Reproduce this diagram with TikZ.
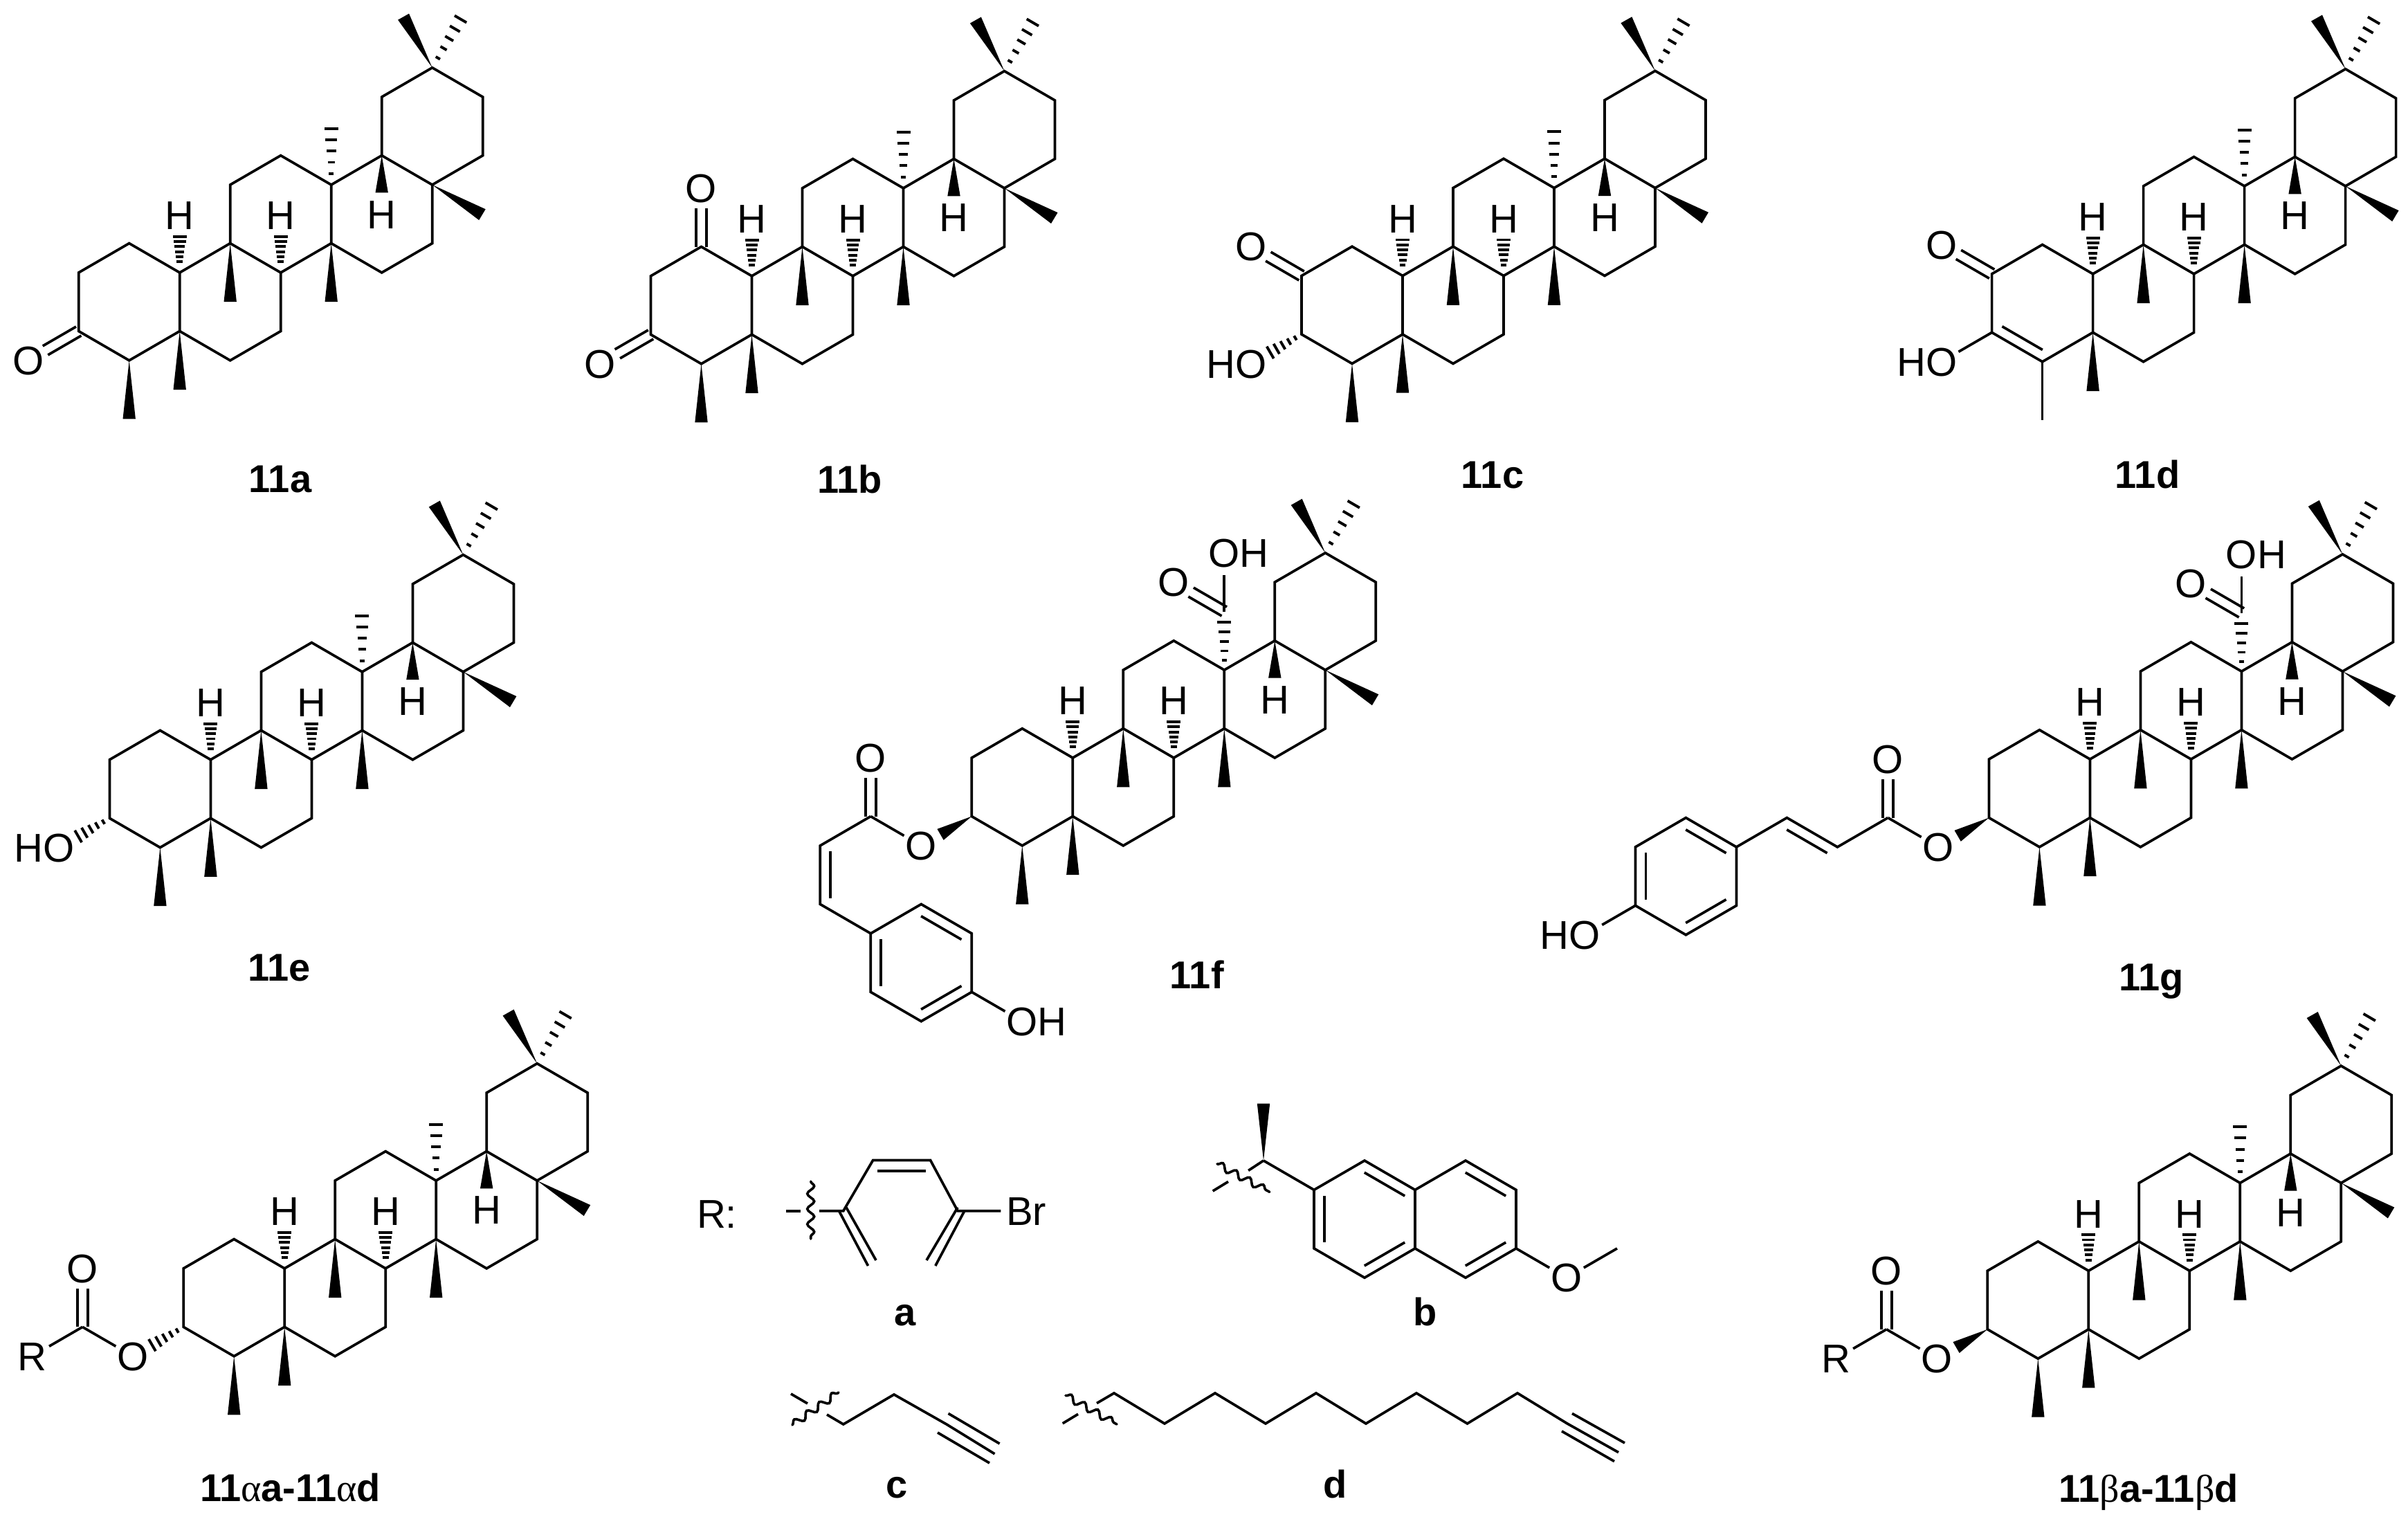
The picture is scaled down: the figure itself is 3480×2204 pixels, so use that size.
\documentclass[tikz,border=0pt]{standalone}
\usepackage{fontspec}
\setmainfont{Liberation Sans}
\newfontfamily\grk{Liberation Serif}
\usetikzlibrary{calc,decorations.pathmorphing}
\newcounter{nc}
\tikzset{
  bond/.style={line width=3.7pt,line join=miter,line cap=butt},
  hbar/.style={line width=3.9pt,line cap=butt},
  atom/.style={font=\fontsize{58}{58}\selectfont,inner sep=0pt,anchor=base,yshift=-20.7pt},
  oh/.style={xshift=21pt},
  ho/.style={xshift=-21pt},
  lbl/.style={font=\fontsize{56}{56}\selectfont\bfseries,inner sep=0pt,anchor=base},
  wave/.style={line width=3.6pt,line cap=round,decorate,decoration={snake,segment length=22pt,amplitude=5pt}}
}
% text at a position
\newcommand\atm[3][]{\stepcounter{nc}\node[atom,#1] (t\arabic{nc}) at (#2) {#3};}
\newcommand\lab[3]{\stepcounter{nc}\node[lbl] (t\arabic{nc}) at (#1,#2) {#3};}
% wedge from #1 to #2
\newcommand\wdg[2]{\fill ($(#2)!9.2pt!90:(#1)$) -- (#1) -- ($(#2)!9.2pt!-90:(#1)$) -- cycle;}
% hash: n bars, first fraction, from, to
\newcommand\hsh[4]{\foreach \k in {1,...,#1}{%
  \pgfmathsetmacro\hT{#2+(1-#2)*(\k-1)/(#1-1)}%
  \pgfmathsetmacro\hW{2+8*\hT}%
  \draw[hbar] ($(#3)!\hT!(#4)!\hW pt!90:(#3)$) -- ($(#3)!\hT!(#4)!\hW pt!-90:(#3)$);}}
% part of a bond
\newcommand\bnd[3]{\draw[bond] (#1) -- ($(#1)!#3!(#2)$);}
\newcommand\bndo[3]{\draw[bond] ($(#1)!#3!(#2)$) -- (#2);}
% centred double bond
\newcommand\dbc[3]{%
  \draw[bond] ($(#1)!7.5pt!90:(#2)$) -- ($(#1)!#3!(#2)!7.5pt!90:(#2)$);
  \draw[bond] ($(#1)!7.5pt!-90:(#2)$) -- ($(#1)!#3!(#2)!7.5pt!-90:(#2)$);}
% inner line of a double bond
\newcommand\dbi[3]{\draw[bond] ($(#1)!.1!(#2)!15pt!#3:(#2)$) -- ($(#1)!.9!(#2)!15pt!#3:(#2)$);}
% triterpene skeleton
\newenvironment{mol}[2]{\begin{scope}[shift={(#1,#2)},x=73pt,y=42.3pt]
  \coordinate (c1) at (-1,1); \coordinate (c2) at (-2,0); \coordinate (c3) at (-2,-2);
  \coordinate (c4) at (-1,-3); \coordinate (c5) at (0,-2); \coordinate (c6) at (1,-3);
  \coordinate (c7) at (2,-2); \coordinate (c8) at (2,0); \coordinate (c9) at (1,1);
  \coordinate (c10) at (0,0); \coordinate (c11) at (1,3); \coordinate (c12) at (2,4);
  \coordinate (c13) at (3,3); \coordinate (c14) at (3,1); \coordinate (c15) at (4,0);
  \coordinate (c16) at (5,1); \coordinate (c17) at (5,3); \coordinate (c18) at (4,4);
  \coordinate (c19) at (4,6); \coordinate (c20) at (5,7); \coordinate (c21) at (6,6);
  \coordinate (c22) at (6,4);
  \draw[bond] (c1) -- (c2) -- (c3) -- (c4) -- (c5) -- (c10) -- cycle;
  \draw[bond] (c10) -- (c9) -- (c8) -- (c7) -- (c6) -- (c5);
  \draw[bond] (c9) -- (c11) -- (c12) -- (c13) -- (c14) -- (c8);
  \draw[bond] (c14) -- (c15) -- (c16) -- (c17) -- (c18) -- (c13);
  \draw[bond] (c17) -- (c22) -- (c21) -- (c20) -- (c19) -- (c18);
  \wdg{c5}{0,-4} \wdg{c9}{1,-1} \wdg{c14}{3,-1}
  \wdg{c18}{4,2.73} \wdg{c17}{5.99,1.98} \wdg{c20}{4.43,8.74}
  \hsh{5}{.2}{c20}{5.56,8.66}
  \hsh{6}{.3}{c10}{0,1.23} \hsh{6}{.3}{c8}{2,1.23}
  \atm{0,1.96}{H} \atm{2,1.96}{H} \atm{4,2}{H}
}{\end{scope}}
\newcommand\cMe{\wdg{c4}{-1,-5}}
\newcommand\dMe{\hsh{5}{.2}{c13}{3,4.92}}
\newcommand\cooh{%
  \hsh{5}{.2}{c13}{3,4.63}
  \dbc{3,5}{2,6}{.66}
  \bnd{3,5}{3,7}{.62}
  \atm{2,6}{O}
  \atm[oh]{3,7}{OH}}
\begin{document}
\begin{tikzpicture}[x=1pt,y=-1pt]
\useasboundingbox (0,0) rectangle (3480,2204);
\fill[white] (0,0) rectangle (3480,2204);
% 11a
\begin{mol}{259.7}{393.9}
  \cMe \dMe
  \dbc{c3}{-3,-3}{.66}
  \atm{-3,-3}{O}
\end{mol}
\lab{405}{711.6}{11a}
% 11b
\begin{mol}{1086.5}{398.8}
  \cMe \dMe
  \dbc{c3}{-3,-3}{.66}
  \atm{-3,-3}{O}
  \dbc{c1}{-1,3}{.66}
  \atm{-1,3}{O}
\end{mol}
\lab{1228.4}{712.6}{11b}
% 11c
\begin{mol}{2027}{398.5}
  \cMe \dMe
  \dbc{c2}{-3,1}{.66}
  \atm{-3,1}{O}
  \coordinate (hb) at ($(c3)!.62!(-3,-3)$);
  \hsh{5}{.2}{c3}{hb}
  \atm[ho]{-3,-3}{HO}
\end{mol}
\lab{2157}{705}{11c}
% 11d
\begin{mol}{3024.6}{395.8}
  \dMe
  \dbc{c2}{-3,1}{.66}
  \atm{-3,1}{O}
  \dbi{c3}{c4}{90}
  \draw[bond] (c4) -- (-1,-5);
  \bnd{c3}{-3,-3}{.66}
  \atm[ho]{-3,-3}{HO}
\end{mol}
\lab{3103.5}{705}{11d}
% 11e
\begin{mol}{304.4}{1097.7}
  \cMe \dMe
  \coordinate (hb) at ($(c3)!.62!(-3,-3)$);
  \hsh{5}{.2}{c3}{hb}
  \atm[ho]{-3,-3}{HO}
\end{mol}
\lab{403.5}{1417}{11e}
% 11f
\begin{mol}{1550.3}{1095}
  \cMe \cooh
  \coordinate (wb) at ($(c3)!.62!(-3,-3)$);
  \wdg{c3}{wb}
  \atm{-3,-3}{O}
  \bnd{-4,-2}{-3,-3}{.66}
  \dbc{-4,-2}{-4,0}{.66}
  \atm{-4,0}{O}
  \draw[bond] (-4,-2) -- (-5,-3) -- (-5,-5) -- (-4,-6) -- (-3,-5) -- (-2,-6) -- (-2,-8) -- (-3,-9) -- (-4,-8) -- (-4,-6);
  \dbi{-5,-3}{-5,-5}{90}
  \dbi{-4,-6}{-4,-8}{90}
  \dbi{-3,-9}{-2,-8}{90}
  \dbi{-2,-6}{-3,-5}{90}
  \bnd{-2,-8}{-1,-9}{.66}
  \atm[oh]{-1,-9}{OH}
\end{mol}
\lab{1729.8}{1428}{11f}
% 11g
\begin{mol}{3020.4}{1097}
  \cMe \cooh
  \coordinate (wb) at ($(c3)!.62!(-3,-3)$);
  \wdg{c3}{wb}
  \atm{-3,-3}{O}
  \bnd{-4,-2}{-3,-3}{.66}
  \dbc{-4,-2}{-4,0}{.66}
  \atm{-4,0}{O}
  \draw[bond] (-4,-2) -- (-5,-3) -- (-6,-2) -- (-7,-3) -- (-8,-2) -- (-9,-3) -- (-9,-5) -- (-8,-6) -- (-7,-5) -- (-7,-3);
  \dbi{-6,-2}{-5,-3}{-90}
  \dbi{-9,-3}{-9,-5}{90}
  \dbi{-8,-6}{-7,-5}{90}
  \dbi{-7,-3}{-8,-2}{90}
  \bnd{-9,-5}{-10,-6}{.66}
  \atm[ho]{-10,-6}{HO}
\end{mol}
\lab{3109}{1431.6}{11g}
% 11alpha
\begin{mol}{411.2}{1832.8}
  \cMe \dMe
  \coordinate (hb) at ($(c3)!.62!(-3,-3)$);
  \hsh{5}{.2}{c3}{hb}
  \atm{-3,-3}{O}
  \bnd{-4,-2}{-3,-3}{.66}
  \dbc{-4,-2}{-4,0}{.66}
  \atm{-4,0}{O}
  \bnd{-4,-2}{-5,-3}{.66}
  \atm{-5,-3}{R}
\end{mol}
\lab{419.6}{2169.5}{11{\grk\mdseries α}a-11{\grk\mdseries α}d}
% 11beta
\begin{mol}{3018.3}{1836.2}
  \cMe \dMe
  \coordinate (wb) at ($(c3)!.62!(-3,-3)$);
  \wdg{c3}{wb}
  \atm{-3,-3}{O}
  \bnd{-4,-2}{-3,-3}{.66}
  \dbc{-4,-2}{-4,0}{.66}
  \atm{-4,0}{O}
  \bnd{-4,-2}{-5,-3}{.66}
  \atm{-5,-3}{R}
\end{mol}
\lab{3105}{2170.6}{11{\grk\mdseries β}a-11{\grk\mdseries β}d}
% R group a
\atm{1036,1753.7}{R:}
\draw[bond] (1136,1749.7) -- (1157,1749.7);
\draw[bond] (1184,1749.7) -- (1218.8,1749.7) -- (1261.6,1676.5) -- (1344.6,1676.5) -- (1384,1749.7) -- (1446.4,1749.7);
\draw[wave] (1171.7,1707) -- (1171.7,1790);
\draw[bond] (1267.9,1692) -- (1337.5,1692);
\draw[bond] (1212.5,1749.7) -- (1254.5,1829);
\draw[bond] (1223,1744.7) -- (1266,1821);
\draw[bond] (1393.8,1749.7) -- (1351.8,1829);
\draw[bond] (1384,1744.7) -- (1339,1821);
\atm{1483,1749.7}{Br}
\lab{1308}{1915}{a}
% R group b
\begin{scope}[shift={(1826,1677)},x=73pt,y=42.3pt]
  \wdg{0,0}{0,1.95}
  \draw[bond] (0,0) -- (1,-1) -- (2,0) -- (3,-1) -- (4,0) -- (5,-1) -- (5,-3) -- (4,-4) -- (3,-3) -- (2,-4) -- (1,-3) -- (1,-1);
  \draw[bond] (3,-1) -- (3,-3);
  \dbi{1,-1}{1,-3}{90}
  \dbi{2,-4}{3,-3}{90}
  \dbi{3,-1}{2,0}{90}
  \dbi{4,-4}{5,-3}{90}
  \dbi{5,-1}{4,0}{90}
  \bnd{5,-3}{6,-4}{.66}
  \bndo{6,-4}{7,-3}{.34}
  \atm{6,-4}{O}
  \bnd{0,0}{-.3,-.34}{1}
\end{scope}
\draw[wave] (1759,1681.9) -- (1834.8,1722.3);
\draw[bond] (1752.7,1721) -- (1775,1707.4);
\lab{2060}{1915}{b}
% R group c
\draw[bond] (1195,2044) -- (1218.8,2058) -- (1292,2015) -- (1367.9,2058) -- (1437.5,2100.8);
\draw[bond] (1143,2014) -- (1167,2028);
\draw[bond] (1370.5,2042.4) -- (1444.6,2086);
\draw[bond] (1355,2070) -- (1430,2114);
\draw[wave] (1145,2059) -- (1212,2012);
\lab{1296.4}{2164.6}{c}
% R group d
\draw[bond] (1585,2027.6) -- (1610,2013) -- (1683,2057) -- (1756,2013) -- (1829,2057) -- (1902,2013) -- (1974,2057) -- (2047,2013) -- (2120.5,2057) -- (2193,2013) -- (2265,2057) -- (2339,2098.6);
\draw[bond] (1535.7,2056.8) -- (1558,2043.3);
\draw[bond] (2272,2042.4) -- (2348,2085);
\draw[bond] (2257,2068) -- (2333,2111.6);
\draw[wave] (1540,2016.4) -- (1614,2058);
\lab{1930}{2164.6}{d}
\end{tikzpicture}
\end{document}
